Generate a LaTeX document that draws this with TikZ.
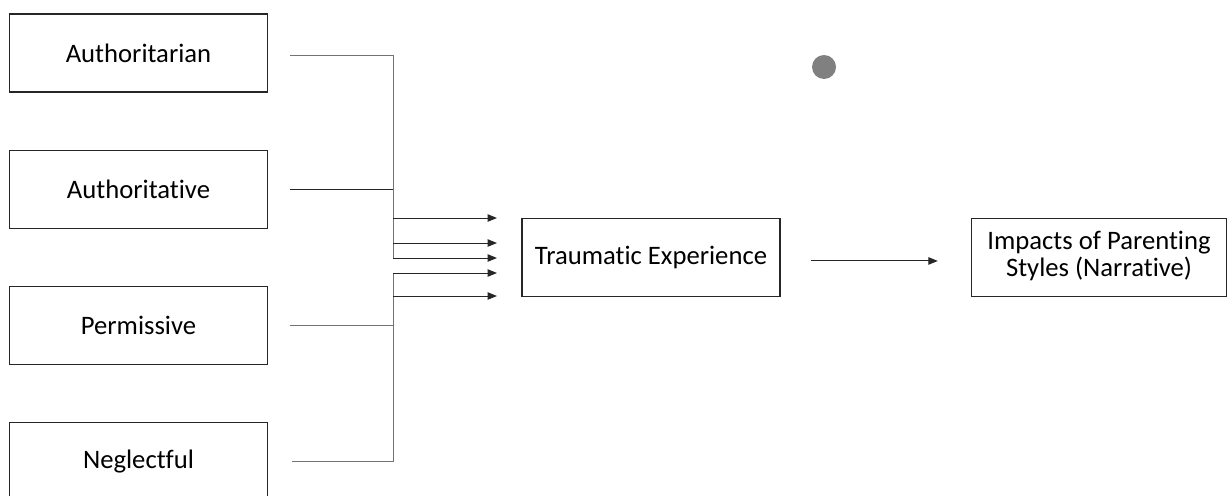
\documentclass[tikz,border=0pt]{standalone}
\usepackage{fontspec}
\setmainfont{Carlito}[Ligatures=NoCommon]
\usetikzlibrary{arrows.meta,positioning}
\tikzset{
    stylebox/.style={draw=black!85, line width=0.8pt, minimum width=193.5pt, minimum height=58.5pt,
        inner sep=0pt, align=center, font=\fontsize{20}{17.5}\selectfont},
    feed/.style={draw=black!55, line width=0.75pt},
    tip/.style={-{Triangle[length=7pt,width=5.5pt]}, draw=black!85, line width=0.75pt}
}
\begin{document}
\begin{tikzpicture}[x=0.75pt,y=-0.75pt]
        \useasboundingbox (0,0) rectangle (1228,496);
        % parenting styles
            \foreach \n/\y/\t in {a1/53/Authoritarian,a2/189.5/Authoritative,a3/325.5/Permissive,a4/461.5/Neglectful}{
                \node[stylebox] (\n) at (138.5,\y) {\t};
            }
        % outcome boxes
            \node[stylebox] (trauma) at (651,257.5) {Traumatic Experience};
            \node[stylebox, minimum width=191.5pt] (impact) at (1099,257.5)
                {\raisebox{-4pt}{\begin{tabular}{@{}c@{}}Impacts of Parenting\\Styles (Narrative)\end{tabular}}};
            \fill[black!50] (824,67) circle[radius=9pt];
        % trunks
            \coordinate (j1) at (393,258);
            \coordinate (j2) at (393,273);
            \draw[feed] ([xshift=16.5pt,yshift=-1.5pt]a1.east) -| (j1);
            \draw[feed, draw=black!85] ([xshift=16.5pt]a2.east) -- (393,189.5);
            \draw[feed] ([xshift=16.5pt]a3.east) -- (393,325.5);
            \draw[feed] ([xshift=18pt]a4.east) -| (j2);
        % branches
            \foreach \y in {218,243,258,273,296}{
                \draw[tip] (393,\y) -- (497,\y);
            }
            \draw[tip] ([xshift=22.5pt,yshift=-2.6pt]trauma.east) -- ([xshift=-24.75pt,yshift=-2.6pt]impact.west);
\end{tikzpicture}
\end{document}
